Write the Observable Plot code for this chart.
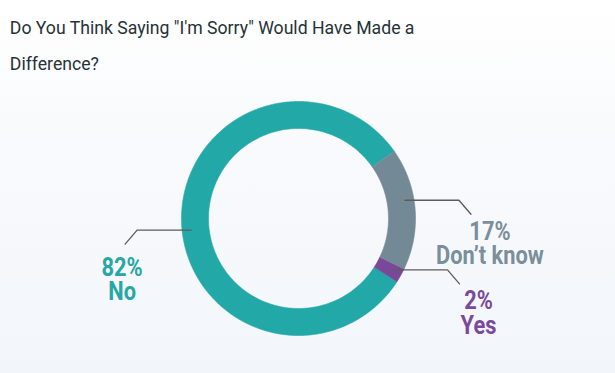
<!DOCTYPE html>
<html>
<head>
<meta charset="utf-8">
<script src="https://cdn.jsdelivr.net/npm/d3@7"></script>
<script src="https://cdn.jsdelivr.net/npm/@observablehq/plot@0.6"></script>
<style>
  html, body { margin: 0; padding: 0; }
  #wrap {
    width: 615px; height: 373px; overflow: hidden; position: relative;
    background: linear-gradient(to bottom, #ffffff 0%, #f9fafc 35%, #f2f6fb 100%);
    font-family: Roboto, "Noto Sans", sans-serif;
  }
  #title {
    box-sizing: border-box;
    height: 82px; padding: 10px 0 0 10px;
    font-size: 18px; line-height: 36px; color: #263238;
    white-space: nowrap; transform: scaleX(0.98); transform-origin: 0 0;
  }
  #chart svg { display: block; background: transparent; }
</style>
</head>
<body>
<div id="wrap">
  <div id="title">Do You Think Saying "I'm Sorry" Would Have Made a<br>Difference?</div>
  <div id="chart"></div>
</div>
<script>
// ---- data ----
const categories = ["No", "Don’t know", "Yes"];
const values = [82, 17, 2];
const sliceColors = ["#23a8a8", "#738a96", "#7a4898"];
const textColors = ["#27a7a5", "#7a8f9a", "#7b4a9b"];

// ---- layout / style ----
const W = 615, H = 291;
const cx = 298, cy = 136, R = 117;   // donut centre and outer radius (px)
const innerFrac = 90 / 117;          // inner radius as fraction of outer
const startDeg = 122.7;              // first slice begins here (clockwise from top)
const leaderMaxOffsetDeg = 5;        // connector angle nudge (counter-clockwise)
const leaderRFrac = 108 / 117;
const hLen = 54, dxDiag = 12, dyDiag = 14;

const rad = d => d * Math.PI / 180;
const pie = d3.pie().sort(null).value(d => d)
  .startAngle(rad(startDeg)).endAngle(rad(startDeg) + 2 * Math.PI);
const arcs = pie(values);

const pt = (r, a) => ({ x: r * Math.sin(a), y: r * Math.cos(a) });

function slicePoints(a0, a1) {
  const n = Math.max(8, Math.ceil((a1 - a0) / rad(1)));
  const pts = [];
  for (let i = 0; i <= n; i++) pts.push(pt(1, a0 + (a1 - a0) * i / n));
  for (let i = n; i >= 0; i--) pts.push(pt(innerFrac, a0 + (a1 - a0) * i / n));
  return pts;
}

const sliceMarks = arcs.map((a, i) =>
  Plot.line(slicePoints(a.startAngle, a.endAngle), {
    x: "x", y: "y", fill: sliceColors[i], stroke: sliceColors[i], strokeWidth: 0.6
  })
);

const leaders = [];
const labels = [];
arcs.forEach((a, i) => {
  const span = a.endAngle - a.startAngle;
  const m = (a.startAngle + a.endAngle) / 2 - Math.min(rad(leaderMaxOffsetDeg), span * 0.1);
  const p0 = pt(leaderRFrac, m);
  const side = Math.sin(m) >= 0 ? 1 : -1;
  const p1 = { x: p0.x + side * hLen / R, y: p0.y };
  const p2 = { x: p1.x + side * dxDiag / R, y: p1.y - dyDiag / R };
  [p0, p1, p2].forEach(p => leaders.push({ ...p, cat: categories[i] }));
  labels.push({
    x: p2.x + (side > 0 ? 19 : -3) / R,
    y: p2.y - (side > 0 ? 8 : 14) / R,
    text: `${values[i]}%\n${categories[i]}`,
    color: textColors[i]
  });
});

const plot = Plot.plot({
  width: W, height: H,
  margin: 0,
  x: { domain: [-1, 1], range: [cx - R, cx + R], axis: null },
  y: { domain: [-1, 1], range: [cy + R, cy - R], axis: null },
  style: { background: "transparent", fontFamily: "Roboto, sans-serif" },
  marks: [
    ...sliceMarks,
    Plot.line(leaders, { x: "x", y: "y", z: "cat", stroke: "#5b5b5b", strokeWidth: 1.3 }),
    ...labels.map(l => Plot.text([l], {
      x: "x", y: "y", text: "text", fill: l.color,
      fontSize: 26, fontWeight: "bold", lineAnchor: "top", lineHeight: 0.95,
      textAnchor: "middle"
    }))
  ]
});

plot.querySelectorAll('g[aria-label="text"] text').forEach(t => {
  const tr = t.getAttribute("transform") || "";
  t.setAttribute("transform", tr + " scale(0.84,1)");
});
document.getElementById("chart").appendChild(plot);
</script>
</body>
</html>
